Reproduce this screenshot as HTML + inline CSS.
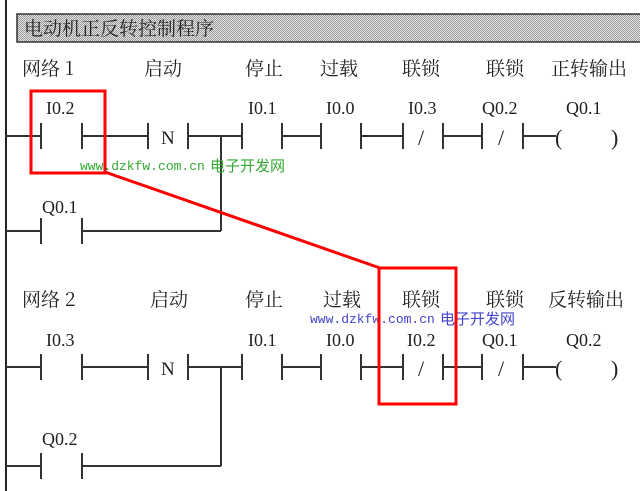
<!DOCTYPE html>
<html><head><meta charset="utf-8"><style>
html,body{margin:0;padding:0;background:#fff;width:640px;height:491px;overflow:hidden}
svg text{font-family:"Liberation Serif","Noto Serif CJK SC",serif;fill:#222}
.cj{font-family:"Noto Serif CJK SC","Noto Sans CJK SC",serif;font-size:19px}
.lb{font-size:18px}
.sl{font-size:22px}
</style></head><body>
<svg width="640" height="491" viewBox="0 0 640 491" xmlns="http://www.w3.org/2000/svg">
<defs><pattern id="dot" width="2" height="2" patternUnits="userSpaceOnUse"><rect width="2" height="2" fill="#e4e4e4"/><rect width="1" height="1" fill="#9a9a9a"/><rect x="1" y="1" width="1" height="1" fill="#9a9a9a"/></pattern></defs>
<line x1="6" y1="0" x2="6" y2="491" stroke="#222" stroke-width="2"/>
<rect x="17" y="14" width="630" height="28" fill="url(#dot)" stroke="#333" stroke-width="1.5"/>
<text x="24" y="35" class="cj" style="font-size:19px">电动机正反转控制程序</text>
<g stroke="#333" stroke-width="2" fill="none">
<path d="M6 136H41M41 123V149M82 123V149M82 136H148M148 123V149M188 123V149M188 136H242M242 123V149M282 123V149M282 136H321M321 123V149M361 123V149M361 136H403M403 123V149M443 123V149M443 136H482M482 123V149M523 123V149M523 136H556"/>
<path d="M221 136V231M6 231H41M41 218V244M82 218V244M82 231H221"/>
<path d="M6 367H41M41 354V380M82 354V380M82 367H148M148 354V380M188 354V380M188 367H242M242 354V380M282 354V380M282 367H321M321 354V380M361 354V380M361 367H403M403 354V380M443 354V380M443 367H482M482 354V380M523 354V380M523 367H556"/>
<path d="M221 367V466M6 466H41M41 453V479M82 453V479M82 466H221"/>
</g>
<g>
<text x="46" y="114" class="lb">I0.2</text><text x="161" y="144" style="font-size:19px">N</text>
<text x="248" y="114" class="lb">I0.1</text><text x="326" y="114" class="lb">I0.0</text>
<text x="408" y="114" class="lb">I0.3</text><text x="482" y="114" class="lb">Q0.2</text><text x="566" y="114" class="lb">Q0.1</text>
<text x="418" y="145" class="sl">/</text><text x="498" y="145" class="sl">/</text>
<text x="555" y="145" class="sl">(</text><text x="611" y="145" class="sl">)</text>
<text x="42" y="213" class="lb">Q0.1</text>
<text x="46" y="346" class="lb">I0.3</text><text x="161" y="375" style="font-size:19px">N</text>
<text x="248" y="346" class="lb">I0.1</text><text x="326" y="346" class="lb">I0.0</text>
<text x="407" y="346" class="lb">I0.2</text><text x="482" y="346" class="lb">Q0.1</text><text x="566" y="346" class="lb">Q0.2</text>
<text x="418" y="376" class="sl">/</text><text x="498" y="376" class="sl">/</text>
<text x="555" y="376" class="sl">(</text><text x="611" y="376" class="sl">)</text>
<text x="42" y="445" class="lb">Q0.2</text>
</g>
<g>
<text x="22" y="75" class="cj">网络 1</text><text x="144" y="75" class="cj">启动</text><text x="245" y="75" class="cj">停止</text><text x="320" y="75" class="cj">过载</text><text x="402" y="75" class="cj">联锁</text><text x="486" y="75" class="cj">联锁</text><text x="551" y="75" class="cj">正转输出</text>
<text x="22" y="306" class="cj">网络 2</text><text x="150" y="306" class="cj">启动</text><text x="245" y="306" class="cj">停止</text><text x="323" y="306" class="cj">过载</text><text x="402" y="306" class="cj">联锁</text><text x="486" y="306" class="cj">联锁</text><text x="548" y="306" class="cj">反转输出</text>
</g>
<text x="80" y="170" style="font-family:'Liberation Mono',monospace;font-size:13px;fill:#3a3">www.dzkfw.com.cn</text>
<text x="210" y="171" style="font-family:'Noto Sans CJK SC',sans-serif;font-size:15px;fill:#3a3">电子开发网</text>
<text x="310" y="323" style="font-family:'Liberation Mono',monospace;font-size:13px;fill:#44c">www.dzkfw.com.cn</text>
<text x="440" y="324" style="font-family:'Noto Sans CJK SC',sans-serif;font-size:15px;fill:#44c">电子开发网</text>
<g stroke="#f00" stroke-width="3" fill="none">
<rect x="31" y="91" width="74" height="82"/>
<rect x="379" y="268" width="77" height="136"/>
<line x1="105" y1="172" x2="380" y2="268"/>
</g>
</svg>
</body></html>
